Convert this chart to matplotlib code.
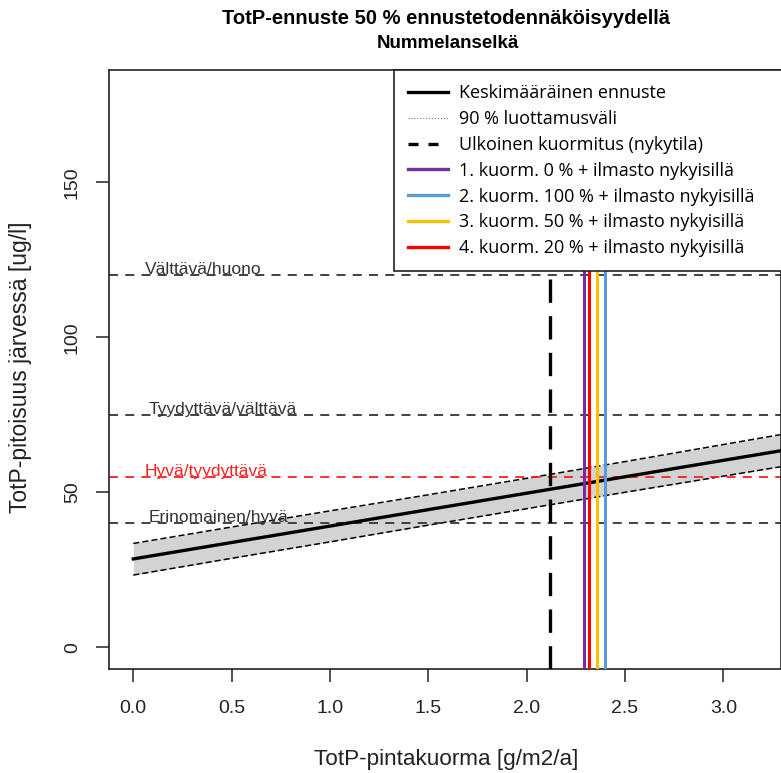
import matplotlib
matplotlib.use('Agg')
import matplotlib.pyplot as plt
from matplotlib.lines import Line2D

plt.rcParams['font.family'] = ['Liberation Sans', 'DejaVu Sans']

# Forecast curve (TotP load -> lake TotP)
load = [0.0, 0.5, 1.0, 1.5, 2.0, 2.5, 3.0, 3.5]
mean_conc = [28.5, 33.8, 39.1, 44.4, 49.7, 55.0, 60.3, 65.6]
upper_90 = [33.5, 38.8, 44.0, 49.2, 54.5, 59.9, 65.4, 70.9]
lower_90 = [23.3, 28.7, 34.0, 39.4, 44.7, 50.0, 55.2, 60.4]

# Class boundaries
class_names = ['Välttävä/huono', 'Tyydyttävä/välttävä', 'Hyvä/tyydyttävä', 'Erinomainen/hyvä']
class_limits = [120, 75, 55, 40]
class_colors = ['#333333', '#333333', '#ff2020', '#333333']
class_label_x = [0.06, 0.08, 0.06, 0.08]

# Current external load and scenarios
current_load = 2.12
scenario_names = ['1. kuorm. 0 % + ilmasto nykyisillä',
                  '2. kuorm. 100 % + ilmasto nykyisillä',
                  '3. kuorm. 50 % + ilmasto nykyisillä',
                  '4. kuorm. 20 % + ilmasto nykyisillä']
scenario_load = [2.29, 2.396, 2.359, 2.316]
scenario_colors = ['#7030A0', '#5B9BD5', '#FFC000', '#FF0000']

W, H = 781, 773
fig = plt.figure(figsize=(W / 100, H / 100), dpi=100)
ax = fig.add_axes([109.3 / W, 1 - 669 / H, (W - 109.3) / W, (669 - 70) / H])

ax.fill_between(load, lower_90, upper_90, color='#d3d3d3', lw=0, zorder=1)
ax.plot(load, upper_90, color='black', lw=1.1, dashes=(4, 2), zorder=2)
ax.plot(load, lower_90, color='black', lw=1.1, dashes=(4, 2), zorder=2)
ax.plot(load, mean_conc, color='black', lw=2.4, zorder=3)

for name, lim, c, tx in zip(class_names, class_limits, class_colors, class_label_x):
    ax.axhline(lim, color=c, lw=1.3, dashes=(5, 4), zorder=2)
    ax.text(tx, lim + 0.3, name, color=c, fontsize=12.5, ha='left', va='baseline', zorder=4)

ax.axvline(current_load, color='black', lw=2.4, dashes=(7, 4), zorder=3)
for ld, c in zip(scenario_load, scenario_colors):
    ax.axvline(ld, color=c, lw=2.2, zorder=3)

ax.set_xlim(-0.122, 3.293)
ax.set_ylim(-7.0, 186.2)
ax.set_xticks([0.0, 0.5, 1.0, 1.5, 2.0, 2.5, 3.0])
ax.set_xticklabels(['0.0', '0.5', '1.0', '1.5', '2.0', '2.5', '3.0'])
ax.set_yticks([0, 50, 100, 150])
ax.set_yticklabels(['0', '50', '100', '150'], rotation=90, va='center')
ax.tick_params(axis='both', length=9.4, width=1.1, labelsize=14, colors='#222222')
ax.tick_params(axis='x', pad=13)
ax.tick_params(axis='y', pad=11)
for s in ax.spines.values():
    s.set_linewidth(1.2)
    s.set_color('#222222')

handles = [Line2D([], [], color='black', lw=2.4),
           Line2D([], [], color='#777777', lw=0.8, ls=':'),
           Line2D([], [], color='black', lw=2.4, dashes=(3, 3))]
handles += [Line2D([], [], color=c, lw=2.4) for c in scenario_colors]
labels = ['Keskimääräinen ennuste', '90 % luottamusväli', 'Ulkoinen kuormitus (nykytila)'] + scenario_names
leg_left = (394 - 109.3) / (W - 109.3)
leg = ax.legend(handles, labels, loc='upper left', bbox_to_anchor=(leg_left, 1.0, 1.02 - leg_left, 0),
                mode='expand', prop={'family': 'Open Sans', 'size': 13},
                handlelength=2.2, handletextpad=0.6, labelspacing=0.43,
                borderpad=0.8, frameon=True, fancybox=False, borderaxespad=0,
                framealpha=1)
leg.get_frame().set_edgecolor('#222222')
leg.get_frame().set_linewidth(1.2)
leg.set_zorder(5)

fig.text(445.5 / W, 1 - 18 / H, 'TotP-ennuste 50 % ennustetodennäköisyydellä',
         fontsize=14.5, fontweight='bold', ha='center', va='center')
fig.text(448 / W, 1 - 44 / H, 'Nummelanselkä', fontsize=13.5, fontweight='bold',
         ha='center', va='center')
fig.text(446 / W, 1 - 760 / H, 'TotP-pintakuorma [g/m2/a]', fontsize=16.2,
         ha='center', va='center', color='#222222')
fig.text(21 / W, 1 - 367.5 / H, 'TotP-pitoisuus järvessä [ug/l]', fontsize=16.5,
         rotation=90, ha='center', va='center', color='#222222')

fig.savefig('out.png', dpi=100)
